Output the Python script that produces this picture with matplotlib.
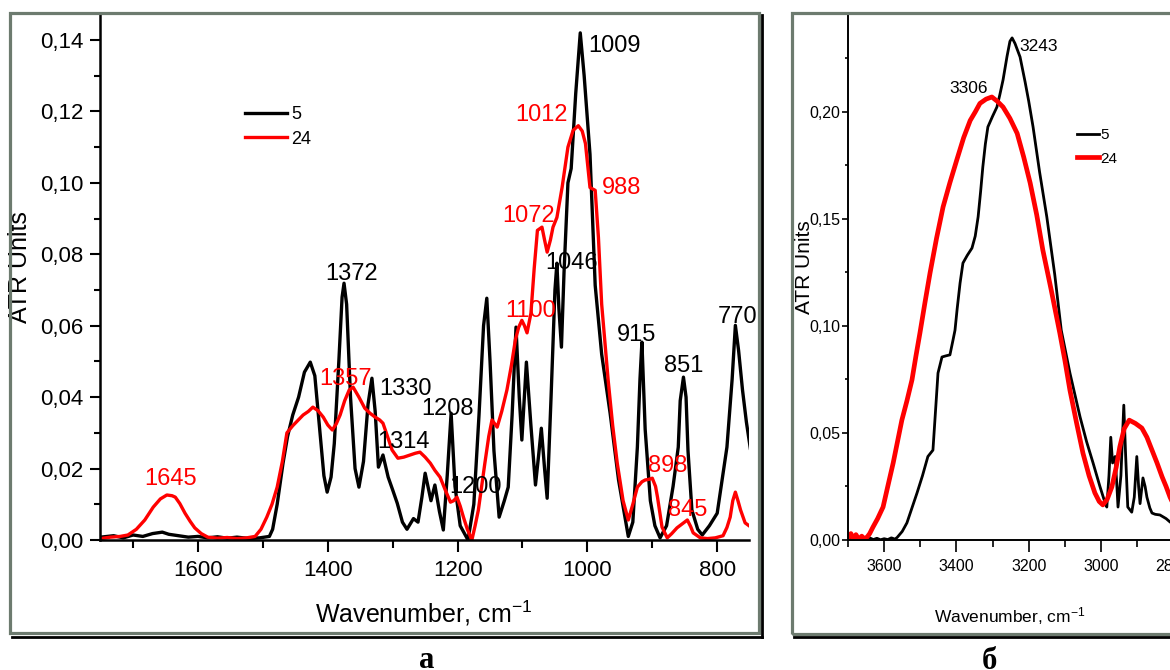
import matplotlib
matplotlib.use('Agg')
import matplotlib.pyplot as plt
from matplotlib.patches import Rectangle
from matplotlib.lines import Line2D
from matplotlib.ticker import MultipleLocator, FuncFormatter

plt.rcParams['font.family'] = ['Liberation Sans', 'DejaVu Sans']
plt.rcParams['mathtext.fontset'] = 'custom'
plt.rcParams['mathtext.rm'] = 'Liberation Sans'
plt.rcParams['mathtext.it'] = 'Liberation Sans:italic'

SERIF = ['Liberation Serif', 'DejaVu Serif']

# ---- panel a: fingerprint region, sample 5 (black) ----
wn_a5 = [1750, 1730, 1715, 1700, 1685, 1670, 1655, 1645, 1630, 1615, 1600, 1585,
         1570, 1555, 1540, 1520, 1505, 1490, 1485, 1478, 1469, 1462, 1454, 1445,
         1436, 1427, 1420, 1413, 1406, 1401, 1395, 1390, 1383, 1378, 1375, 1371,
         1365, 1358, 1352, 1345, 1338, 1332, 1327, 1322, 1315, 1307, 1300, 1293,
         1285, 1278, 1268, 1261, 1255, 1250, 1241, 1235, 1228, 1222, 1216, 1210,
         1204, 1196, 1184, 1175, 1167, 1160, 1155, 1150, 1144, 1136, 1128, 1122,
         1116, 1110, 1105, 1101, 1094, 1087, 1080, 1075, 1071, 1066, 1062, 1056,
         1050, 1047, 1044, 1040, 1036, 1030, 1025, 1018, 1011, 1005, 996, 988,
         978, 965, 952, 937, 930, 923, 919, 916, 911, 903, 896, 888, 878, 868,
         860, 857, 852, 848, 845, 839, 830, 823, 812, 800, 785, 777, 772, 767,
         761, 755, 749]
ab_a5 = [0.0008, 0.0012, 0.0006, 0.0014, 0.0010, 0.0018, 0.0022, 0.0016, 0.0012,
         0.0008, 0.0010, 0.0006, 0.0009, 0.0005, 0.0008, 0.0004, 0.0006, 0.0010,
         0.0030, 0.0100, 0.0215, 0.0290, 0.0350, 0.0400, 0.0470, 0.0498, 0.0460,
         0.0320, 0.0180, 0.0134, 0.0176, 0.0270, 0.0500, 0.0680, 0.0719, 0.0660,
         0.0400, 0.0200, 0.0148, 0.0220, 0.0380, 0.0453, 0.0360, 0.0204, 0.0238,
         0.0176, 0.0140, 0.0103, 0.0050, 0.0030, 0.0060, 0.0050, 0.0120, 0.0187,
         0.0110, 0.0154, 0.0080, 0.0028, 0.0180, 0.0355, 0.0150, 0.0040, 0.0000,
         0.0100, 0.0350, 0.0600, 0.0677, 0.0500, 0.0250, 0.0064, 0.0110, 0.0148,
         0.0350, 0.0596, 0.0400, 0.0280, 0.0498, 0.0320, 0.0154, 0.0240, 0.0313,
         0.0200, 0.0117, 0.0400, 0.0700, 0.0775, 0.0650, 0.0540, 0.0750, 0.1000,
         0.1040, 0.1250, 0.1420, 0.1300, 0.1080, 0.0713, 0.0520, 0.0355, 0.0168,
         0.0010, 0.0050, 0.0260, 0.0450, 0.0554, 0.0310, 0.0110, 0.0040, 0.0006,
         0.0040, 0.0150, 0.0260, 0.0390, 0.0456, 0.0400, 0.0250, 0.0084, 0.0030,
         0.0014, 0.0040, 0.0075, 0.0260, 0.0450, 0.0601, 0.0530, 0.0420, 0.0330,
         0.0257]

# ---- panel a: sample 24 (red) ----
wn_a24 = [1750, 1735, 1720, 1708, 1695, 1682, 1669, 1658, 1648, 1640, 1635, 1628,
          1620, 1612, 1605, 1595, 1585, 1570, 1555, 1540, 1525, 1512, 1503, 1494,
          1486, 1478, 1470, 1463, 1454, 1446, 1438, 1430, 1423, 1415, 1407, 1400,
          1393, 1387, 1381, 1374, 1367, 1361, 1352, 1343, 1335, 1327, 1320, 1315,
          1308, 1301, 1292, 1283, 1273, 1265, 1258, 1250, 1242, 1235, 1227, 1219,
          1211, 1206, 1201, 1196, 1191, 1185, 1178, 1173, 1168, 1163, 1158, 1152,
          1147, 1143, 1139, 1132, 1124, 1117, 1111, 1106, 1101, 1097, 1093, 1087,
          1082, 1077, 1070, 1066, 1062, 1057, 1053, 1047, 1039, 1030, 1022, 1014,
          1008, 1003, 996, 988, 983, 978, 968, 961, 954, 945, 937, 930, 923, 916,
          911, 905, 900, 895, 892, 885, 877, 870, 862, 854, 846, 841, 837, 826,
          815, 803, 791, 785, 780, 776, 772, 768, 764, 757, 748]
ab_a24 = [0.0004, 0.0008, 0.0010, 0.0014, 0.0030, 0.0056, 0.0092, 0.0115, 0.0126,
          0.0124, 0.0120, 0.0102, 0.0075, 0.0052, 0.0034, 0.0018, 0.0008, 0.0005,
          0.0007, 0.0004, 0.0006, 0.0010, 0.0030, 0.0064, 0.0100, 0.0148, 0.0220,
          0.0300, 0.0320, 0.0335, 0.0350, 0.0360, 0.0372, 0.0362, 0.0344, 0.0322,
          0.0308, 0.0325, 0.0350, 0.0390, 0.0420, 0.0428, 0.0400, 0.0369, 0.0355,
          0.0344, 0.0336, 0.0327, 0.0290, 0.0252, 0.0229, 0.0232, 0.0238, 0.0243,
          0.0246, 0.0232, 0.0215, 0.0195, 0.0176, 0.0140, 0.0106, 0.0110, 0.0120,
          0.0095, 0.0064, 0.0030, 0.0000, 0.0040, 0.0084, 0.0150, 0.0215, 0.0290,
          0.0336, 0.0326, 0.0316, 0.0360, 0.0420, 0.0490, 0.0560, 0.0595, 0.0615,
          0.0600, 0.0580, 0.0635, 0.0760, 0.0867, 0.0876, 0.0840, 0.0806, 0.0840,
          0.0876, 0.0903, 0.0987, 0.1100, 0.1147, 0.1160, 0.1145, 0.1110, 0.0987,
          0.0979, 0.0847, 0.0660, 0.0447, 0.0320, 0.0215, 0.0110, 0.0056, 0.0100,
          0.0148, 0.0163, 0.0168, 0.0170, 0.0173, 0.0150, 0.0120, 0.0036, 0.0006,
          0.0018, 0.0034, 0.0045, 0.0056, 0.0038, 0.0020, 0.0006, 0.0004, 0.0006,
          0.0012, 0.0035, 0.0064, 0.0110, 0.0134, 0.0110, 0.0084, 0.0048, 0.0036]

# ---- panel б: OH / CH region ----
wn_b5 = [3700, 3690, 3680, 3670, 3660, 3650, 3640, 3630, 3620, 3610, 3600, 3590,
         3580, 3570, 3564, 3550, 3537, 3523, 3509, 3494, 3479, 3465, 3458, 3451,
         3440, 3430, 3418, 3410, 3404, 3398, 3390, 3382, 3370, 3357, 3348, 3340,
         3333, 3327, 3320, 3313, 3300, 3288, 3280, 3271, 3260, 3252, 3246, 3238,
         3224, 3210, 3200, 3188, 3170, 3150, 3128, 3110, 3086, 3058, 3040, 3022,
         3003, 2990, 2984, 2978, 2973, 2968, 2961, 2956, 2953, 2945, 2937, 2932,
         2926, 2915, 2908, 2901, 2896, 2892, 2884, 2878, 2873, 2865, 2859, 2850,
         2837, 2820, 2809, 2795]
ab_b5 = [0.0020, 0.0005, 0.0018, 0.0004, 0.0012, 0.0003, 0.0010, 0.0002, 0.0008,
         0.0001, 0.0006, 0.0002, 0.0010, 0.0004, 0.0012, 0.0040, 0.0080, 0.0150,
         0.0220, 0.0300, 0.0390, 0.0420, 0.0600, 0.0780, 0.0855, 0.0860, 0.0865,
         0.0930, 0.0980, 0.1080, 0.1200, 0.1294, 0.1330, 0.1364, 0.1420, 0.1510,
         0.1630, 0.1743, 0.1850, 0.1930, 0.1980, 0.2023, 0.2080, 0.2150, 0.2260,
         0.2330, 0.2346, 0.2320, 0.2257, 0.2140, 0.2050, 0.1930, 0.1720, 0.1510,
         0.1240, 0.0980, 0.0780, 0.0575, 0.0460, 0.0360, 0.0250, 0.0180, 0.0154,
         0.0300, 0.0480, 0.0360, 0.0390, 0.0250, 0.0154, 0.0300, 0.0630, 0.0400,
         0.0154, 0.0130, 0.0200, 0.0390, 0.0250, 0.0170, 0.0290, 0.0250, 0.0200,
         0.0150, 0.0126, 0.0120, 0.0117, 0.0100, 0.0084, 0.0070]

wn_b24 = [3700, 3692, 3685, 3678, 3670, 3662, 3655, 3647, 3640, 3631, 3618, 3603,
          3590, 3575, 3563, 3551, 3537, 3523, 3512, 3501, 3487, 3473, 3455, 3437,
          3418, 3399, 3380, 3362, 3348, 3335, 3318, 3302, 3287, 3271, 3252, 3232,
          3214, 3196, 3178, 3161, 3138, 3114, 3100, 3086, 3068, 3050, 3033, 3017,
          3005, 2995, 2983, 2970, 2958, 2948, 2936, 2922, 2905, 2887, 2873, 2859,
          2845, 2831, 2820, 2809, 2795]
ab_b24 = [0.0008, 0.0030, 0.0005, 0.0025, 0.0003, 0.0018, 0.0006, 0.0014, 0.0030,
          0.0060, 0.0100, 0.0154, 0.0250, 0.0360, 0.0460, 0.0560, 0.0650, 0.0748,
          0.0860, 0.0967, 0.1110, 0.1248, 0.1410, 0.1556, 0.1670, 0.1776, 0.1880,
          0.1960, 0.2000, 0.2040, 0.2060, 0.2070, 0.2050, 0.2023, 0.1970, 0.1900,
          0.1790, 0.1668, 0.1520, 0.1355, 0.1170, 0.0967, 0.0840, 0.0700, 0.0550,
          0.0406, 0.0300, 0.0220, 0.0180, 0.0164, 0.0190, 0.0248, 0.0340, 0.0435,
          0.0520, 0.0560, 0.0545, 0.0523, 0.0480, 0.0420, 0.0360, 0.0295, 0.0250,
          0.0200, 0.0150]

# peak labels: text, anchor (wavenumber, absorbance)
labels_a5 = ['1009', '1046', '1372', '915', '770', '851', '1330', '1208', '1314', '1200']
pos_a5 = [(959, 0.1382), (1024, 0.0775), (1364, 0.0744), (925, 0.0573), (768, 0.0624),
          (852, 0.0487), (1281, 0.0422), (1215, 0.0366), (1284, 0.0274), (1173, 0.0148)]
labels_a24 = ['1012', '988', '1072', '1100', '1357', '1645', '898', '845']
pos_a24 = [(1070, 0.1189), (948, 0.0985), (1091, 0.0906), (1088, 0.0641), (1372, 0.0450),
           (1643, 0.0171), (877, 0.0207), (846, 0.0084)]
labels_b5 = ['3243', '3306']
pos_b5 = [(3174, 0.2308), (3365, 0.2108)]

W, H = 1170, 670
fig = plt.figure(figsize=(W / 100, H / 100), dpi=100)


def px(x0, y0, w, h):
    # rectangle given in image pixels (top-left origin) -> figure fraction
    return [x0 / W, 1 - (y0 + h) / H, w / W, h / H]


comma = FuncFormatter(lambda v, p: f'{v:.2f}'.replace('.', ','))

# ---------------- panel a ----------------
ax1 = fig.add_axes(px(100, 15, 649, 525))
ax1.plot(wn_a5, ab_a5, color='black', lw=2.4, label='5')
ax1.plot(wn_a24, ab_a24, color='#ff0000', lw=2.4, label='24')
ax1.set_xlim(1751, 751)
ax1.set_ylim(0, 0.147)
ax1.xaxis.set_major_locator(MultipleLocator(200))
ax1.xaxis.set_minor_locator(MultipleLocator(100))
ax1.yaxis.set_major_locator(MultipleLocator(0.02))
ax1.yaxis.set_minor_locator(MultipleLocator(0.01))
ax1.yaxis.set_major_formatter(comma)
for s in ['top', 'right']:
    ax1.spines[s].set_visible(False)
for s in ['left', 'bottom']:
    ax1.spines[s].set_linewidth(1.8)
ax1.tick_params(which='both', direction='out', width=1.5, labelsize=16)
ax1.tick_params(axis='y', which='major', length=7, pad=5)
ax1.tick_params(axis='y', which='minor', length=4.5)
ax1.tick_params(axis='x', which='major', length=8.5, pad=6)
ax1.tick_params(axis='x', which='minor', length=5.5)

for t, (x, y) in zip(labels_a5, pos_a5):
    ax1.text(x, y, t, color='black', fontsize=17, ha='center', va='center')
for t, (x, y) in zip(labels_a24, pos_a24):
    ax1.text(x, y, t, color='#ff0000', fontsize=17, ha='center', va='center')

ax1.legend(loc='upper left', bbox_to_anchor=(0.2234, 0.826), frameon=False,
           fontsize=13, handlelength=2.3, handletextpad=0.25, labelspacing=0.4,
           borderpad=0, borderaxespad=0)

fig.text(20 / W, 1 - 267 / H, 'ATR Units', rotation=90, ha='center', va='center',
         fontsize=18)
fig.text(424 / W, 48 / H, r'Wavenumber, cm$^{-1}$', ha='center', va='baseline',
         fontsize=18)

# ---------------- panel б ----------------
ax2 = fig.add_axes(px(848, 15, 397.6, 525))
ax2.plot(wn_b5, ab_b5, color='black', lw=2.0, label='5')
ax2.plot(wn_b24, ab_b24, color='#ff0000', lw=3.4, label='24')
ax2.set_xlim(3700, 2600)
ax2.set_ylim(0, 0.2453)
ax2.xaxis.set_major_locator(MultipleLocator(200))
ax2.xaxis.set_minor_locator(MultipleLocator(100))
ax2.yaxis.set_major_locator(MultipleLocator(0.05))
ax2.yaxis.set_minor_locator(MultipleLocator(0.025))
ax2.yaxis.set_major_formatter(comma)
for s in ['top', 'right']:
    ax2.spines[s].set_visible(False)
for s in ['left', 'bottom']:
    ax2.spines[s].set_linewidth(1.4)
ax2.tick_params(which='both', direction='out', width=1.2, labelsize=11.5)
ax2.tick_params(axis='y', which='major', length=4.5, pad=1)
ax2.tick_params(axis='y', which='minor', length=2.5)
ax2.tick_params(axis='x', which='major', length=8.5, pad=5)
ax2.tick_params(axis='x', which='minor', length=5)

for t, (x, y) in zip(labels_b5, pos_b5):
    ax2.text(x, y, t, color='black', fontsize=12.5, ha='center', va='center')

ax2.legend(loc='upper left', bbox_to_anchor=(0.576, 0.784), frameon=False,
           fontsize=11, handlelength=1.45, handletextpad=0.05, labelspacing=0.6,
           borderpad=0, borderaxespad=0)

fig.text(804 / W, 1 - 267 / H, 'ATR Units', rotation=90, ha='center', va='center',
         fontsize=15)
fig.text(1010 / W, 48 / H, r'Wavenumber, cm$^{-1}$', ha='center', va='baseline',
         fontsize=12.5)

# ---------------- frames ----------------
frame_col = '#6d7b6f'
fig.add_artist(Rectangle((10 / W, 1 - 633 / H), 749 / W, 620 / H, transform=fig.transFigure,
                         fill=False, edgecolor=frame_col, lw=2.3, zorder=5))
fig.add_artist(Line2D([12 / W, 762 / W], [1 - 637 / H] * 2, transform=fig.transFigure,
                      color='black', lw=2.0, zorder=5))
fig.add_artist(Line2D([762 / W] * 2, [1 - 15 / H, 1 - 637 / H], transform=fig.transFigure,
                      color='black', lw=2.0, zorder=5))
fig.add_artist(Rectangle((792 / W, 1 - 634 / H), 420 / W, 621 / H, transform=fig.transFigure,
                         fill=False, edgecolor=frame_col, lw=2.3, zorder=5))
fig.add_artist(Line2D([794 / W, 1.0], [1 - 637 / H] * 2, transform=fig.transFigure,
                      color='black', lw=2.0, zorder=5))

fig.text(427 / W, 2 / H, 'а', ha='center', va='baseline', fontsize=22,
         fontweight='bold', family=SERIF)
fig.text(989 / W, 1 / H, 'б', ha='center', va='baseline', fontsize=22,
         fontweight='bold', family=SERIF)

fig.savefig('out.png', dpi=100)
